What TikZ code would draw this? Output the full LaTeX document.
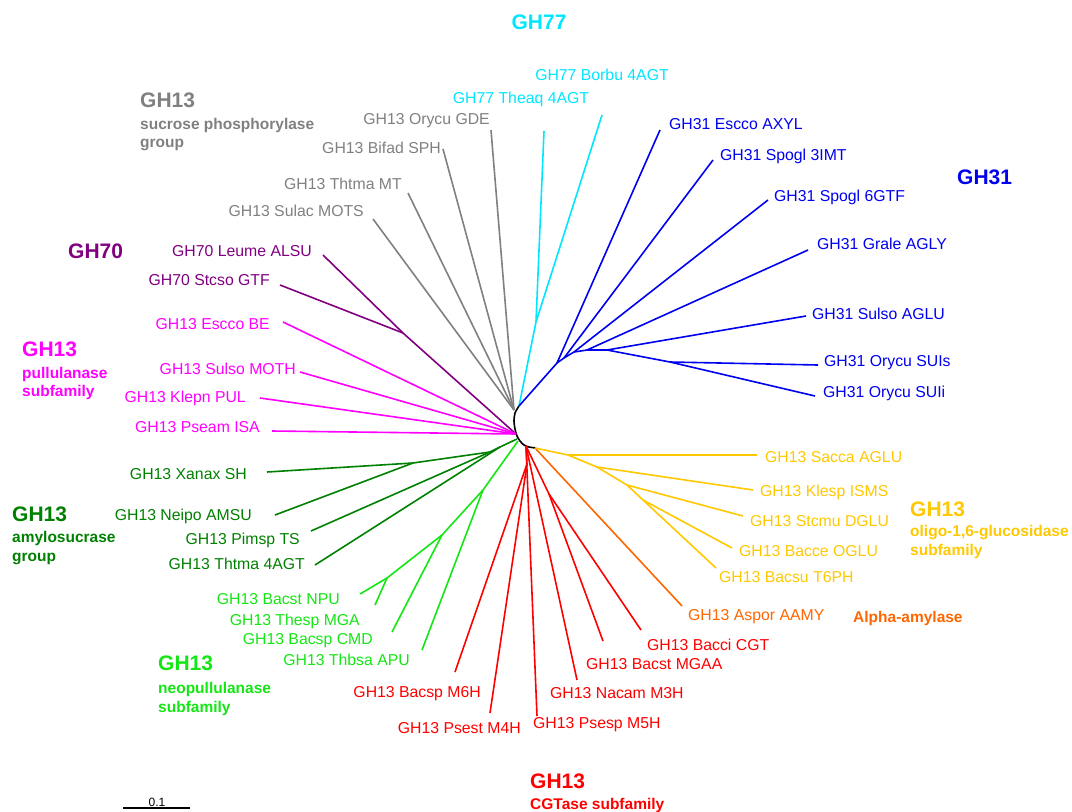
\documentclass[tikz,border=0pt]{standalone}
\usepackage{fontspec}
\setmainfont{Liberation Sans}
\definecolor{cgray}{RGB}{128,128,128}
\definecolor{ccyan}{RGB}{0,230,255}
\definecolor{cblue}{RGB}{0,0,240}
\definecolor{cpurple}{RGB}{128,0,128}
\definecolor{cmag}{RGB}{255,0,255}
\definecolor{cdgreen}{RGB}{0,128,0}
\definecolor{clgreen}{RGB}{20,230,20}
\definecolor{cred}{RGB}{255,0,0}
\definecolor{corange}{RGB}{255,102,0}
\definecolor{cgold}{RGB}{255,200,0}
\begin{document}
\begin{tikzpicture}[x=1pt,y=-1pt,
  br/.style={line width=1.6pt,line join=round},
  lab/.style={font=\fontsize{15.8}{18}\selectfont,inner sep=0pt,yshift=-4pt},
  labr/.style={lab,anchor=mid west},
  labl/.style={lab,anchor=mid east},
  labc/.style={lab,anchor=mid},
  hdr/.style={font=\bfseries\fontsize{21}{24}\selectfont,inner sep=0pt,anchor=mid west,yshift=-4.5pt},
  sub/.style={font=\bfseries\fontsize{15.5}{18}\selectfont,inner sep=0pt,anchor=mid west,yshift=-4pt}]
\useasboundingbox (0,0) rectangle (1072,812);

% ---------- backbone ----------
\draw[br,black] plot[smooth] coordinates {(519,406) (515,413) (514,421) (515,429) (517,436) (520,441) (524,445) (529,447) (536,448)};
\coordinate (bTop) at (519,406);
\coordinate (gc) at (514,410);
\coordinate (bM) at (516,434);
\coordinate (bDG) at (517,439);
\coordinate (bLG) at (518,441);
\coordinate (bR) at (526,446);
\coordinate (bO) at (535,448);

% ---------- gray GH13 sucrose phosphorylase ----------
\coordinate (gGDE) at (491,130);
\coordinate (gSPH) at (443,149);
\coordinate (gMT) at (408,193);
\coordinate (gMOTS) at (373,219);
\foreach \l in {gGDE,gSPH,gMT,gMOTS} \draw[br,cgray] (gc) -- (\l);
\node[labl,cgray] (tGDE) at (490,118) {GH13 Orycu GDE};
\node[labl,cgray] (tSPH) at (441,147) {GH13 Bifad SPH};
\node[labl,cgray] (tMT) at (402,183) {GH13 Thtma MT};
\node[labl,cgray] (tMOTS) at (364,210) {GH13 Sulac MOTS};

% ---------- cyan GH77 ----------
\coordinate (cf) at (536,322);
\coordinate (cTheaq) at (544,131);
\coordinate (cBorbu) at (602,115);
\draw[br,ccyan] (bTop) -- (cf) -- (cTheaq);
\draw[br,ccyan] (cf) -- (cBorbu);
\node[labc,ccyan] (tTheaq) at (521,97) {GH77 Theaq 4AGT};
\node[labc,ccyan] (tBorbu) at (602,74) {GH77 Borbu 4AGT};

% ---------- blue GH31 ----------
\coordinate (B1) at (557,363);
\coordinate (B2) at (564,358);
\coordinate (B3) at (574,352);
\coordinate (B3b) at (587,350);
\coordinate (B4) at (607,350);
\coordinate (B5) at (670,362);
\coordinate (lAXYL) at (660,130);
\coordinate (l3IMT) at (713,160);
\coordinate (l6GTF) at (768,200);
\coordinate (lAGLY) at (808,250);
\coordinate (lAGLU) at (806,316);
\coordinate (lSUIs) at (818,365);
\coordinate (lSUIi) at (815,396);
\draw[br,cblue] (bTop) -- (B1) -- (B2) -- (B3) -- (B3b) -- (B4) -- (B5) -- (lSUIs);
\draw[br,cblue] (B1) -- (lAXYL);
\draw[br,cblue] (B2) -- (l3IMT);
\draw[br,cblue] (B3) -- (l6GTF);
\draw[br,cblue] (B3b) -- (lAGLY);
\draw[br,cblue] (B4) -- (lAGLU);
\draw[br,cblue] (B5) -- (lSUIi);
\node[labr,cblue] (tAXYL) at (669,123) {GH31 Escco AXYL};
\node[labr,cblue] (t3IMT) at (720,154) {GH31 Spogl 3IMT};
\node[labr,cblue] (t6GTF) at (774,195) {GH31 Spogl 6GTF};
\node[labr,cblue] (tAGLY) at (817,243) {GH31 Grale AGLY};
\node[labr,cblue] (tAGLU) at (812,313) {GH31 Sulso AGLU};
\node[labr,cblue] (tSUIs) at (824,360) {GH31 Orycu SUIs};
\node[labr,cblue] (tSUIi) at (823,391) {GH31 Orycu SUIi};

% ---------- purple GH70 ----------
\coordinate (P) at (403,333);
\coordinate (pALSU) at (323,255);
\coordinate (pGTF) at (280,285);
\draw[br,cpurple] (bM) -- (P) -- (pALSU);
\draw[br,cpurple] (P) -- (pGTF);
\node[labl,cpurple] (tALSU) at (312,250) {GH70 Leume ALSU};
\node[labl,cpurple] (tGTF) at (270,279) {GH70 Stcso GTF};

% ---------- magenta pullulanase ----------
\coordinate (mBE) at (283,322);
\coordinate (mMOTH) at (300,372);
\coordinate (mPUL) at (260,398);
\coordinate (mISA) at (272,431);
\foreach \l in {mBE,mMOTH,mPUL,mISA} \draw[br,cmag] (bM) -- (\l);
\node[labl,cmag] (tBE) at (270,323) {GH13 Escco BE};
\node[labl,cmag] (tMOTH) at (296,368) {GH13 Sulso MOTH};
\node[labl,cmag] (tPUL) at (246,396) {GH13 Klepn PUL};
\node[labl,cmag] (tISA) at (260,426) {GH13 Pseam ISA};

% ---------- dark green amylosucrase ----------
\coordinate (DG1) at (413,463);
\coordinate (DG2) at (490,452);
\coordinate (DG3) at (500,447);
\coordinate (dSH) at (267,472);
\coordinate (dAMSU) at (275,515);
\coordinate (dTS) at (311,531);
\coordinate (d4AGT) at (315,565);
\draw[br,cdgreen] (bDG) -- (DG3) -- (DG2) -- (DG1) -- (dSH);
\draw[br,cdgreen] (DG1) -- (dAMSU);
\draw[br,cdgreen] (DG2) -- (dTS);
\draw[br,cdgreen] (DG3) -- (d4AGT);
\node[labl,cdgreen] (tSH) at (247,473) {GH13 Xanax SH};
\node[labl,cdgreen] (tAMSU) at (252,514) {GH13 Neipo AMSU};
\node[labl,cdgreen] (tTS) at (300,538) {GH13 Pimsp TS};
\node[labl,cdgreen] (t4AGT) at (305,563) {GH13 Thtma 4AGT};

% ---------- light green neopullulanase ----------
\coordinate (LG1) at (483,490);
\coordinate (LG2) at (442,535);
\coordinate (LG3) at (387,578);
\coordinate (nNPU) at (360,594);
\coordinate (nMGA) at (375,605);
\coordinate (nCMD) at (392,632);
\coordinate (nAPU) at (422,650);
\draw[br,clgreen] (bLG) -- (LG1) -- (LG2) -- (LG3) -- (nNPU);
\draw[br,clgreen] (LG3) -- (nMGA);
\draw[br,clgreen] (LG2) -- (nCMD);
\draw[br,clgreen] (LG1) -- (nAPU);
\node[labl,clgreen] (tNPU) at (340,598) {GH13 Bacst NPU};
\node[labl,clgreen] (tMGA) at (360,619) {GH13 Thesp MGA};
\node[labl,clgreen] (tCMD) at (373,638) {GH13 Bacsp CMD};
\node[labl,clgreen] (tAPU) at (410,659) {GH13 Thbsa APU};

% ---------- red CGTase ----------
\coordinate (R1) at (527,464);
\coordinate (R2) at (549,494);
\coordinate (rM6H) at (455,672);
\coordinate (rM4H) at (490,713);
\coordinate (rM5H) at (537,716);
\coordinate (rM3H) at (577,680);
\coordinate (rMGAA) at (603,641);
\coordinate (rCGT) at (641,630);
\draw[br,cred] (bR) -- (R1) -- (rM6H);
\draw[br,cred] (R1) -- (rM4H);
\draw[br,cred] (bR) -- (rM5H);
\draw[br,cred] (bR) -- (rM3H);
\draw[br,cred] (bR) -- (R2) -- (rMGAA);
\draw[br,cred] (R2) -- (rCGT);
\node[labl,cred] (tM6H) at (481,691) {GH13 Bacsp M6H};
\node[labl,cred] (tM4H) at (521,727) {GH13 Psest M4H};
\node[labr,cred] (tM5H) at (533,722) {GH13 Psesp M5H};
\node[labr,cred] (tM3H) at (550,692) {GH13 Nacam M3H};
\node[labr,cred] (tMGAA) at (586,663) {GH13 Bacst MGAA};
\node[labr,cred] (tCGT) at (647,644) {GH13 Bacci CGT};

% ---------- orange ----------
\coordinate (oAAMY) at (682,606);
\draw[br,corange] (bO) -- (oAAMY);
\node[labr,corange] (tAAMY) at (688,614) {GH13 Aspor AAMY};

% ---------- gold oligo-1,6-glucosidase ----------
\coordinate (Y1) at (568,455);
\coordinate (Y2) at (597,467);
\coordinate (Y3) at (627,485);
\coordinate (Y4) at (643,500);
\coordinate (ySacca) at (757,455);
\coordinate (yKlesp) at (753,490);
\coordinate (yStcmu) at (743,516);
\coordinate (yBacce) at (732,548);
\coordinate (yBacsu) at (716,568);
\draw[br,cgold] (bO) -- (Y1) -- (ySacca);
\draw[br,cgold] (Y1) -- (Y2) -- (yKlesp);
\draw[br,cgold] (Y2) -- (Y3) -- (yStcmu);
\draw[br,cgold] (Y3) -- (Y4) -- (yBacce);
\draw[br,cgold] (Y4) -- (yBacsu);
\node[labr,cgold] (tSacca) at (765,456) {GH13 Sacca AGLU};
\node[labr,cgold] (tKlesp) at (760,490) {GH13 Klesp ISMS};
\node[labr,cgold] (tStcmu) at (750,520) {GH13 Stcmu DGLU};
\node[labr,cgold] (tBacce) at (739,550) {GH13 Bacce OGLU};
\node[labr,cgold] (tBacsu) at (719,576) {GH13 Bacsu T6PH};

% ---------- group headers ----------
\node[hdr,ccyan,anchor=mid] (hGH77) at (539,22) {GH77};
\node[hdr,cblue] (hGH31) at (957,177) {GH31};
\node[hdr,cgray] (hSP) at (140,100) {GH13};
\node[sub,cgray] (sSP1) at (140,123) {sucrose phosphorylase};
\node[sub,cgray] (sSP2) at (140,141) {group};
\node[hdr,cpurple] (hGH70) at (68,251) {GH70};
\node[hdr,cmag] (hPU) at (22,349) {GH13};
\node[sub,cmag] (sPU1) at (22,372) {pullulanase};
\node[sub,cmag] (sPU2) at (22,390) {subfamily};
\node[hdr,cdgreen] (hAS) at (12,514) {GH13};
\node[sub,cdgreen] (sAS1) at (12,536) {amylosucrase};
\node[sub,cdgreen] (sAS2) at (12,555) {group};
\node[hdr,clgreen] (hNP) at (158,663) {GH13};
\node[sub,clgreen] (sNP1) at (158,687) {neopullulanase};
\node[sub,clgreen] (sNP2) at (158,706) {subfamily};
\node[hdr,cred] (hCG) at (530,781) {GH13};
\node[sub,cred] (sCG) at (530,803) {CGTase subfamily};
\node[hdr,cgold] (hOG) at (910,509) {GH13};
\node[sub,cgold] (sOG1) at (910,530) {oligo-1,6-glucosidase};
\node[sub,cgold] (sOG2) at (910,549) {subfamily};
\node[sub,corange] (hAA) at (853,616) {Alpha-amylase};

% ---------- scale bar ----------
\coordinate (sb1) at (123,808);
\coordinate (sb2) at (190,808);
\draw[line width=1.4pt] (sb1) -- (sb2);
\node[font=\fontsize{12}{13}\selectfont,inner sep=0pt,anchor=base] (sbl) at (157,806) {0.1};
\end{tikzpicture}
\end{document}
